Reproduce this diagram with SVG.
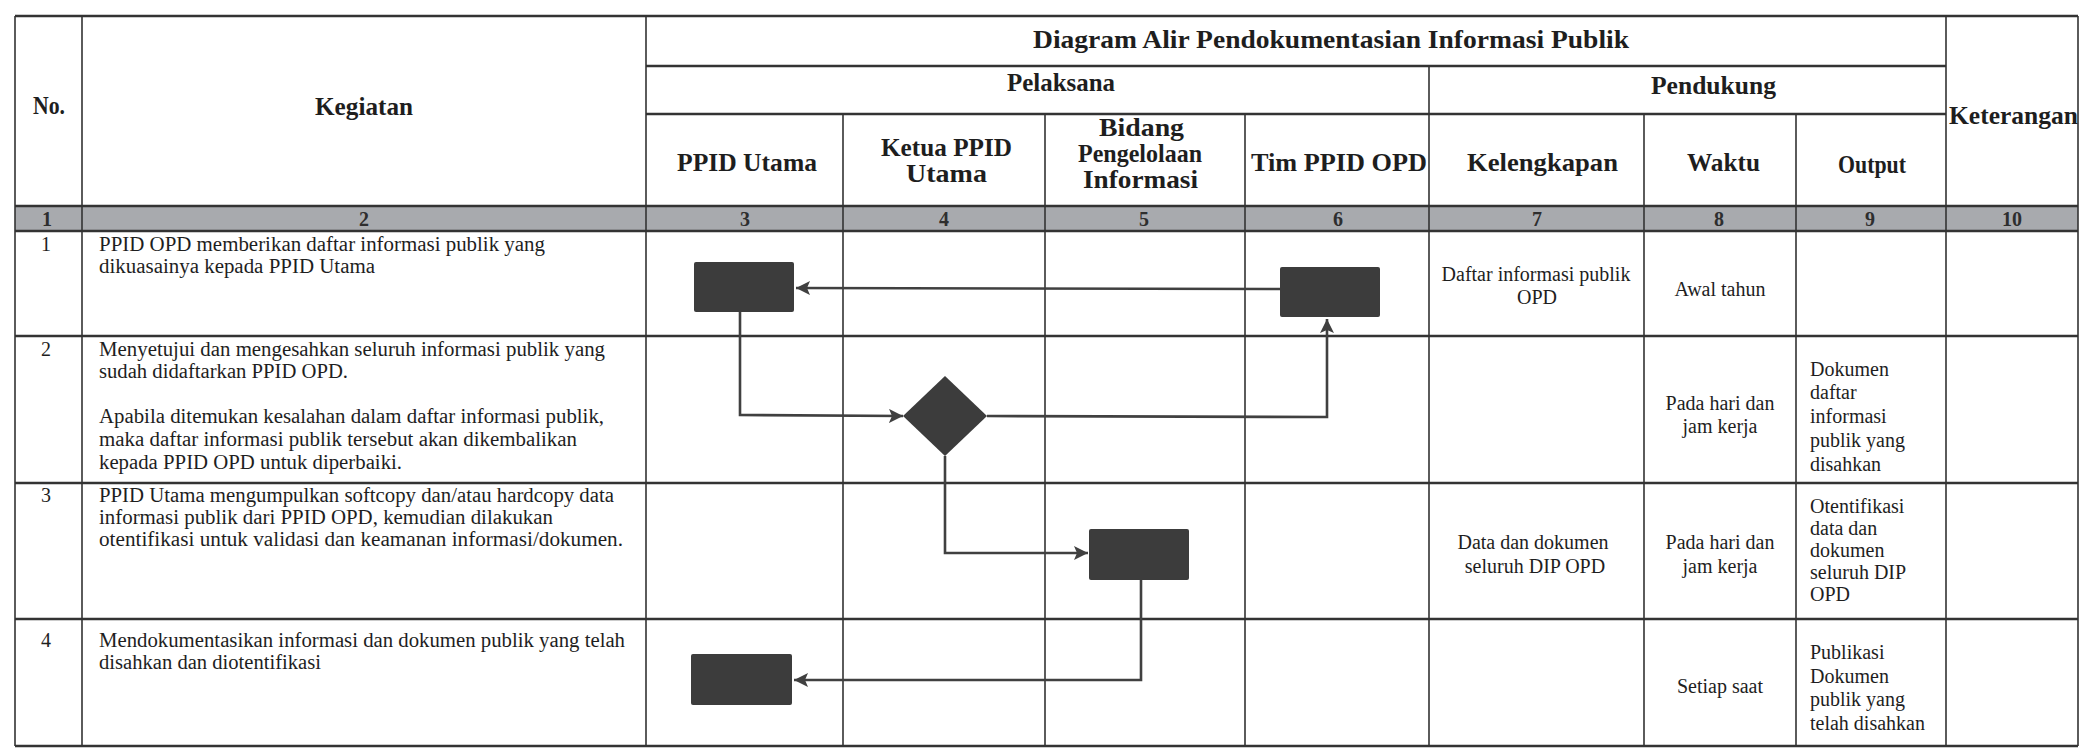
<svg xmlns="http://www.w3.org/2000/svg" width="2080" height="748" viewBox="0 0 2080 748">
<defs>
<style>
.h{font-family:"Liberation Serif","Times New Roman",serif;font-weight:bold;font-size:25px;fill:#1e1e1e}
.n{font-family:"Liberation Serif","Times New Roman",serif;font-weight:bold;font-size:20px;fill:#2e2e2e;text-anchor:middle}
.t{font-family:"Liberation Serif","Times New Roman",serif;font-size:20px;fill:#1e1e1e}
.c{text-anchor:middle}
.hl{stroke:#333;stroke-width:2.4;fill:none}
.vl{stroke:#333;stroke-width:1.6;fill:none}
.shape{fill:#3c3c3c}
.conn{stroke:#404040;stroke-width:2.6;fill:none}
</style>
<marker id="arr" markerUnits="userSpaceOnUse" markerWidth="16" markerHeight="16" refX="14" refY="7" orient="auto">
<path d="M0,0 L14,7 L0,14 L3,7 Z" fill="#404040"/>
</marker>
</defs>
<rect x="0" y="0" width="2080" height="748" fill="#ffffff"/>

<g id="table">
<rect x="15" y="206" width="2063" height="25" fill="#a8aaae"/>
<line class="hl" x1="15" y1="16" x2="2078" y2="16"/>
<line class="hl" x1="646" y1="66" x2="1946" y2="66"/>
<line class="hl" x1="646" y1="114" x2="1946" y2="114"/>
<line class="hl" x1="15" y1="206" x2="2078" y2="206"/>
<line class="hl" x1="15" y1="231" x2="2078" y2="231"/>
<line class="hl" x1="15" y1="336" x2="2078" y2="336"/>
<line class="hl" x1="15" y1="483" x2="2078" y2="483"/>
<line class="hl" x1="15" y1="619" x2="2078" y2="619"/>
<line class="hl" x1="15" y1="746" x2="2078" y2="746"/>
<line class="vl" x1="15" y1="16" x2="15" y2="746"/>
<line class="vl" x1="82" y1="16" x2="82" y2="746"/>
<line class="vl" x1="646" y1="16" x2="646" y2="746"/>
<line class="vl" x1="843" y1="114" x2="843" y2="746"/>
<line class="vl" x1="1045" y1="114" x2="1045" y2="746"/>
<line class="vl" x1="1245" y1="114" x2="1245" y2="746"/>
<line class="vl" x1="1429" y1="66" x2="1429" y2="746"/>
<line class="vl" x1="1644" y1="114" x2="1644" y2="746"/>
<line class="vl" x1="1796" y1="114" x2="1796" y2="746"/>
<line class="vl" x1="1946" y1="16" x2="1946" y2="746"/>
<line class="vl" x1="2078" y1="16" x2="2078" y2="746"/>
</g>

<g id="headers">
<text class="h" x="1033" y="48" textLength="596" lengthAdjust="spacingAndGlyphs">Diagram Alir Pendokumentasian Informasi Publik</text>
<text class="h" x="1007" y="91" textLength="108" lengthAdjust="spacingAndGlyphs">Pelaksana</text>
<text class="h" x="1651" y="94" textLength="125" lengthAdjust="spacingAndGlyphs">Pendukung</text>
<text class="h" x="1949" y="124" textLength="129" lengthAdjust="spacingAndGlyphs">Keterangan</text>
<text class="h" x="33" y="114" textLength="32" lengthAdjust="spacingAndGlyphs">No.</text>
<text class="h" x="315" y="115" textLength="98" lengthAdjust="spacingAndGlyphs">Kegiatan</text>
<text class="h" x="677" y="171" textLength="140" lengthAdjust="spacingAndGlyphs">PPID Utama</text>
<text class="h" x="881" y="156" textLength="131" lengthAdjust="spacingAndGlyphs">Ketua PPID</text>
<text class="h" x="906" y="182" textLength="81" lengthAdjust="spacingAndGlyphs">Utama</text>
<text class="h" x="1099" y="136" textLength="85" lengthAdjust="spacingAndGlyphs">Bidang</text>
<text class="h" x="1078" y="162" textLength="124" lengthAdjust="spacingAndGlyphs">Pengelolaan</text>
<text class="h" x="1083" y="188" textLength="115" lengthAdjust="spacingAndGlyphs">Informasi</text>
<text class="h" x="1251" y="171" textLength="176" lengthAdjust="spacingAndGlyphs">Tim PPID OPD</text>
<text class="h" x="1467" y="171" textLength="151" lengthAdjust="spacingAndGlyphs">Kelengkapan</text>
<text class="h" x="1687" y="171" textLength="73" lengthAdjust="spacingAndGlyphs">Waktu</text>
<text class="h" x="1838" y="173" textLength="68" lengthAdjust="spacingAndGlyphs">Output</text>
<text class="n" x="47" y="226">1</text>
<text class="n" x="364" y="226">2</text>
<text class="n" x="745" y="226">3</text>
<text class="n" x="944" y="226">4</text>
<text class="n" x="1144" y="226">5</text>
<text class="n" x="1338" y="226">6</text>
<text class="n" x="1537" y="226">7</text>
<text class="n" x="1719" y="226">8</text>
<text class="n" x="1870" y="226">9</text>
<text class="n" x="2012" y="226">10</text>
</g>

<g id="row1">
<text class="t c" x="46" y="251">1</text>
<text class="t" x="99" y="251" textLength="446" lengthAdjust="spacingAndGlyphs">PPID OPD memberikan daftar informasi publik yang</text>
<text class="t" x="99" y="273" textLength="276" lengthAdjust="spacingAndGlyphs">dikuasainya kepada PPID Utama</text>
<text class="t c" x="1536" y="281">Daftar informasi publik</text>
<text class="t c" x="1537" y="304">OPD</text>
<text class="t c" x="1720" y="296">Awal tahun</text>
</g>

<g id="row2">
<text class="t c" x="46" y="356">2</text>
<text class="t" x="99" y="356" textLength="506" lengthAdjust="spacingAndGlyphs">Menyetujui dan mengesahkan seluruh informasi publik yang</text>
<text class="t" x="99" y="378" textLength="249" lengthAdjust="spacingAndGlyphs">sudah didaftarkan PPID OPD.</text>
<text class="t" x="99" y="423" textLength="505" lengthAdjust="spacingAndGlyphs">Apabila ditemukan kesalahan dalam daftar informasi publik,</text>
<text class="t" x="99" y="446" textLength="478" lengthAdjust="spacingAndGlyphs">maka daftar informasi publik tersebut akan dikembalikan</text>
<text class="t" x="99" y="469" textLength="303" lengthAdjust="spacingAndGlyphs">kepada PPID OPD untuk diperbaiki.</text>
<text class="t c" x="1720" y="410">Pada hari dan</text>
<text class="t c" x="1720" y="433">jam kerja</text>
<text class="t" x="1810" y="376">Dokumen</text>
<text class="t" x="1810" y="399">daftar</text>
<text class="t" x="1810" y="423">informasi</text>
<text class="t" x="1810" y="447">publik yang</text>
<text class="t" x="1810" y="471">disahkan</text>
</g>

<g id="row3">
<text class="t c" x="46" y="502">3</text>
<text class="t" x="99" y="502" textLength="515" lengthAdjust="spacingAndGlyphs">PPID Utama mengumpulkan softcopy dan/atau hardcopy data</text>
<text class="t" x="99" y="524" textLength="454" lengthAdjust="spacingAndGlyphs">informasi publik dari PPID OPD, kemudian dilakukan</text>
<text class="t" x="99" y="546" textLength="524" lengthAdjust="spacingAndGlyphs">otentifikasi untuk validasi dan keamanan informasi/dokumen.</text>
<text class="t c" x="1533" y="549">Data dan dokumen</text>
<text class="t c" x="1535" y="573">seluruh DIP OPD</text>
<text class="t c" x="1720" y="549">Pada hari dan</text>
<text class="t c" x="1720" y="573">jam kerja</text>
<text class="t" x="1810" y="513">Otentifikasi</text>
<text class="t" x="1810" y="535">data dan</text>
<text class="t" x="1810" y="557">dokumen</text>
<text class="t" x="1810" y="579">seluruh DIP</text>
<text class="t" x="1810" y="601">OPD</text>
</g>

<g id="row4">
<text class="t c" x="46" y="647">4</text>
<text class="t" x="99" y="647" textLength="526" lengthAdjust="spacingAndGlyphs">Mendokumentasikan informasi dan dokumen publik yang telah</text>
<text class="t" x="99" y="669" textLength="222" lengthAdjust="spacingAndGlyphs">disahkan dan diotentifikasi</text>
<text class="t c" x="1720" y="693">Setiap saat</text>
<text class="t" x="1810" y="659">Publikasi</text>
<text class="t" x="1810" y="683">Dokumen</text>
<text class="t" x="1810" y="706">publik yang</text>
<text class="t" x="1810" y="730">telah disahkan</text>
</g>

<g id="node-a"><rect class="shape" x="694" y="262" width="100" height="50" rx="2"/></g>
<g id="node-b"><rect class="shape" x="1280" y="267" width="100" height="50" rx="2"/></g>
<g id="node-decision"><polygon class="shape" points="945,376 987,416 945,456 903,416"/></g>
<g id="node-c"><rect class="shape" x="1089" y="529" width="100" height="51" rx="2"/></g>
<g id="node-d"><rect class="shape" x="691" y="654" width="101" height="51" rx="2"/></g>

<g id="connectors">
<path class="conn" d="M1280,289 L796,288" marker-end="url(#arr)"/>
<path class="conn" d="M740,312 L740,415 L903,416" marker-end="url(#arr)"/>
<path class="conn" d="M987,416 L1327,417 L1327,319" marker-end="url(#arr)"/>
<path class="conn" d="M945,456 L945,553 L1088,553" marker-end="url(#arr)"/>
<path class="conn" d="M1141,580 L1141,680 L794,680" marker-end="url(#arr)"/>
</g>
</svg>
